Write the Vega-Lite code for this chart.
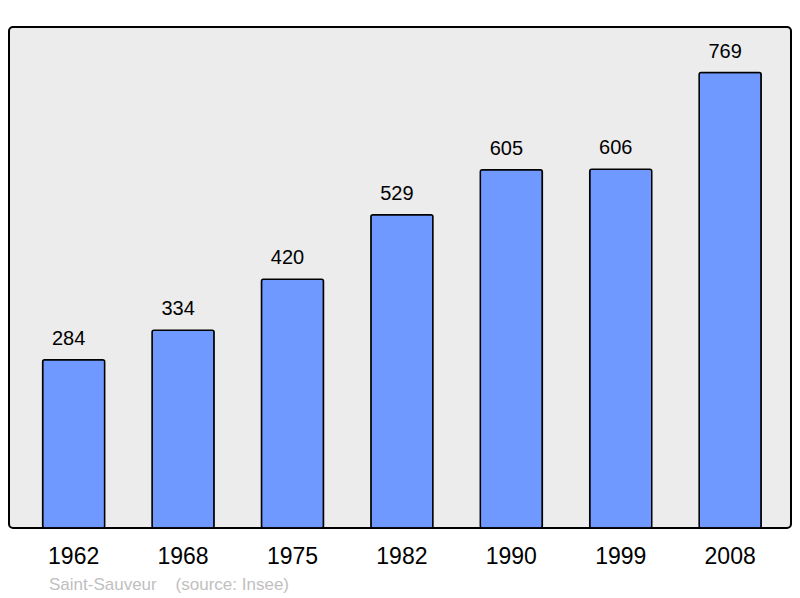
{
  "$schema": "https://vega.github.io/schema/vega-lite/v6.json",
  "width": 782,
  "height": 501,
  "autosize": "none",
  "padding": {"left": 9, "top": 27, "right": 9, "bottom": 70},
  "background": "white",
  "config": {
    "view": {"fill": "#ececec", "stroke": "black", "strokeWidth": 2, "cornerRadius": 4},
    "font": "Liberation Sans"
  },
  "title": {
    "text": "Saint-Sauveur\u00a0\u00a0\u00a0\u00a0(source: Insee)",
    "orient": "bottom",
    "anchor": "start",
    "dx": 40,
    "offset": 9,
    "fontSize": 17,
    "fontWeight": "normal",
    "color": "#c0c0c0",
    "font": "Liberation Sans"
  },
  "data": {
    "values": [
      {"year": "1962", "pop": 284},
      {"year": "1968", "pop": 334},
      {"year": "1975", "pop": 420},
      {"year": "1982", "pop": 529},
      {"year": "1990", "pop": 605},
      {"year": "1999", "pop": 606},
      {"year": "2008", "pop": 769}
    ]
  },
  "encoding": {
    "x": {
      "field": "year",
      "type": "ordinal",
      "scale": {"paddingInner": 0.433, "paddingOuter": 0.29, "align": 0.53},
      "axis": {"title": null, "domain": false, "ticks": false, "labelAngle": 0, "labelFontSize": 23, "labelPadding": 17, "labelColor": "black", "labelFont": "Liberation Sans"}
    },
    "y": {
      "field": "pop",
      "type": "quantitative",
      "scale": {"domain": [0, 846], "nice": false},
      "axis": null
    }
  },
  "layer": [
    {"mark": {"type": "bar", "fill": "#7099ff", "stroke": "black", "strokeWidth": 1.5, "cornerRadius": 2}},
    {"mark": {"type": "text", "baseline": "middle", "dy": -21, "dx": -5, "fontSize": 20, "color": "black"}, "encoding": {"text": {"field": "pop"}}}
  ]
}
